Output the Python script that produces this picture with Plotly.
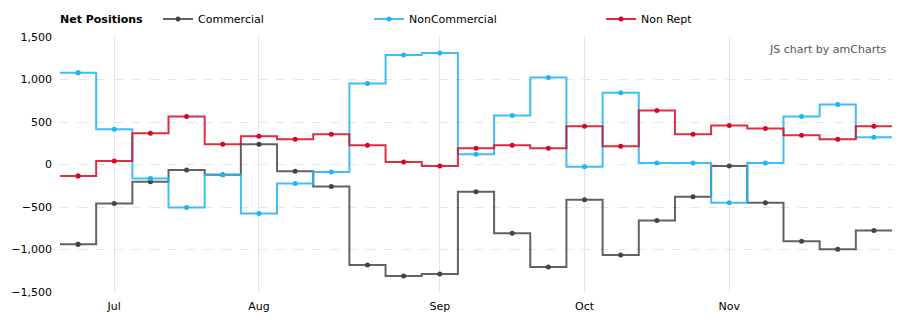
import plotly.graph_objects as go

# --- data (weekly net positions) ---
commercial = [-938, -460, -204, -64, -120, 239, -79, -259, -1182, -1311, -1287, -320,
              -810, -1206, -414, -1066, -658, -379, -17, -449, -903, -996, -775]
noncommercial = [1078, 414, -165, -507, -122, -577, -224, -87, 953, 1287, 1311, 122,
                 577, 1023, -26, 845, 17, 17, -449, 17, 565, 705, 320]
nonrept = [-134, 41, 367, 565, 239, 332, 297, 355, 227, 29, -17, 192,
           227, 192, 449, 216, 635, 355, 460, 425, 344, 297, 449]
month_labels = ["Jul", "Aug", "Sep", "Oct", "Nov"]
month_index = [1, 5, 10, 14, 18]

series = [
    ("Commercial", commercial, "rgba(70,70,70,0.85)", "#444444", "legend"),
    ("NonCommercial", noncommercial, "rgba(30,180,245,0.85)", "#1eb4f5", "legend2"),
    ("Non Rept", nonrept, "rgba(215,10,35,0.85)", "#d40a23", "legend3"),
]

FONT = "DejaVu Sans, Verdana, sans-serif"
W, H = 910, 326
ML, MR, MT, MB = 60, 18, 37, 34
PW = W - ML - MR
PH = H - MT - MB
CLEAR = "rgba(0,0,0,0)"

fig = go.Figure()
for name, vals, lc, mc, lg in series:
    # start at the first point's centre so the legend picks up the marker colour
    xs, ys, cols = [0], [vals[0]], [mc]
    for i, v in enumerate(vals):
        xs += [i - 0.5, i, i + 0.5]
        ys += [v, v, v]
        cols += [CLEAR, mc, CLEAR]
    fig.add_trace(go.Scatter(
        x=xs, y=ys, name=name, mode="lines+markers",
        line=dict(color=lc, width=2),
        marker=dict(color=cols, size=5, line=dict(width=0)),
        hoverinfo="skip", legend=lg,
    ))


def legend_at(px):
    return dict(
        orientation="h", x=(px - ML) / PW, xanchor="left",
        yref="container", y=1 - 19 / H, yanchor="middle",
        font=dict(size=11, family=FONT, color="#000000"),
        itemwidth=30, bgcolor="rgba(0,0,0,0)", borderwidth=0,
    )


fig.update_layout(
    width=W, height=H,
    margin=dict(l=ML, r=MR, t=MT, b=MB, autoexpand=False),
    paper_bgcolor="white", plot_bgcolor="white",
    font=dict(family=FONT, size=11, color="#000000"),
    showlegend=True,
    legend=legend_at(158),
    legend2=legend_at(369),
    legend3=legend_at(601),
    xaxis=dict(
        range=[-0.5, len(commercial) - 0.5],
        tickmode="array", tickvals=month_index, ticktext=month_labels,
        showgrid=True, gridcolor="#e3e3e3", gridwidth=1,
        zeroline=False, showline=False, ticks="", ticklabelstandoff=6,
        tickfont=dict(size=11, family=FONT),
    ),
    yaxis=dict(
        range=[-1500, 1500], tickmode="array",
        tickvals=[-1500, -1000, -500, 0, 500, 1000, 1500],
        tickformat=",d",
        showgrid=True, gridcolor="#e6e6e6", griddash="dash", gridwidth=1,
        zeroline=False, showline=False, ticks="", ticklabelstandoff=7,
        tickfont=dict(size=11, family=FONT),
    ),
    annotations=[
        dict(
            text="JS chart by amCharts", xref="paper", yref="paper",
            x=1, y=1 - 12 / PH, xanchor="right", yanchor="middle",
            showarrow=False, xshift=-4,
            font=dict(size=11, family=FONT, color="#555555"),
        ),
        dict(
            text="<b>Net Positions</b>", xref="paper", yref="paper",
            x=0, y=1 + (MT - 19) / PH, xanchor="left", yanchor="middle",
            showarrow=False, xshift=-2,
            font=dict(size=11, family=FONT, color="#000000"),
        ),
    ],
)

fig.write_html("out.html")
